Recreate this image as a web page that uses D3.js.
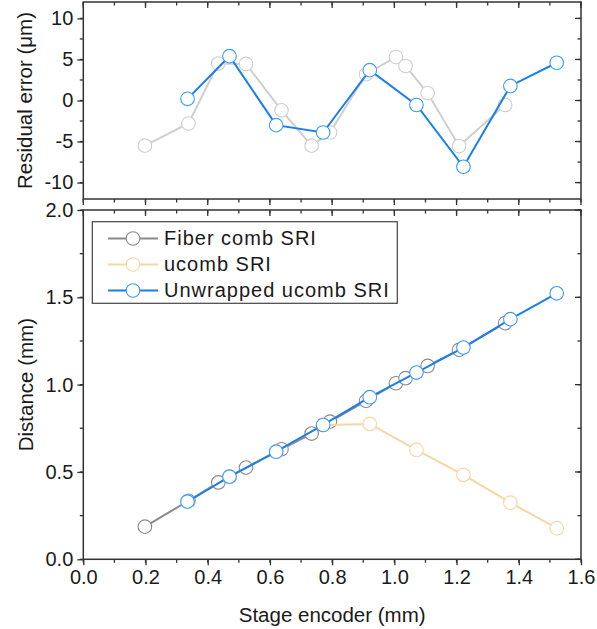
<!DOCTYPE html>
<html>
<head>
<meta charset="utf-8">
<script src="https://cdn.jsdelivr.net/npm/d3@7"></script>
<style>
  body { margin: 0; background: #fff; }
  svg { font-family: "Liberation Sans", Arial, sans-serif; }
  .axis text { font-size: 20px; fill: #1a1a1a; }
  .axis line { stroke: #333; stroke-width: 1.3; }
  .axis path { display: none; }
</style>
</head>
<body>
<div id="chart"></div>
<script>
// stage encoder positions (mm)
const stageFiber = [0.198, 0.338, 0.434, 0.523, 0.637, 0.734, 0.793, 0.909, 1.005, 1.036, 1.107, 1.208, 1.356];
const stageUcomb = [0.335, 0.470, 0.620, 0.771, 0.921, 1.071, 1.222, 1.373, 1.522];

// residual error (um)
const resFiber = [-5.5, -2.8, 4.5, 4.45, -1.2, -5.5, -3.9, 3.2, 5.3, 4.2, 0.9, -5.55, -0.55];
const resUnwrapped = [0.2, 5.4, -3.0, -3.9, 3.7, -0.55, -8.07, 1.77, 4.6];

// distance (mm)
const distFiber = [0.187, 0.335, 0.44, 0.525, 0.63, 0.72, 0.788, 0.907, 1.008, 1.037, 1.107, 1.199, 1.352];
const distUcomb = [0.33, 0.473, 0.616, 0.769, 0.775, 0.626, 0.483, 0.324, 0.178];
const distUnwrapped = [0.33, 0.473, 0.616, 0.769, 0.928, 1.069, 1.212, 1.375, 1.523];

const legendLabels = ['Fiber comb SRI', 'ucomb SRI', 'Unwrapped ucomb SRI'];
const xTicks = [0, 0.2, 0.4, 0.6, 0.8, 1.0, 1.2, 1.4, 1.6];
const resTicks = [-10, -5, 0, 5, 10];
const distTicks = [0, 0.5, 1.0, 1.5, 2.0];

const width = 597, height = 629;
const left = 83.3, right = 581;
const top1 = 2, bottom1 = 199;
const top2 = 210, bottom2 = 559.3;

const svg = d3.select('#chart').append('svg')
  .attr('width', width)
  .attr('height', height);

const x = d3.scaleLinear().domain([0, 1.6]).range([left, right]);
const yRes = d3.scaleLinear().domain([-12, 12]).range([bottom1, top1]);
const yDist = d3.scaleLinear().domain([0, 2]).range([bottom2, top2]);

const xMinor = d3.range(0, 1.61, 0.1);
const resMinor = d3.range(-10, 10.1, 2.5);
const distMinor = d3.range(0, 2.01, 0.25);

const tickLabel = d => String(d);

function drawTicks(parent, scale, values, size, orient) {
  // draws plain tick marks along one edge
  parent.append('g').selectAll('line').data(values).join('line')
    .attr('x1', d => orient === 'h' ? scale(d) : 0)
    .attr('x2', d => orient === 'h' ? scale(d) : size)
    .attr('y1', d => orient === 'h' ? 0 : scale(d))
    .attr('y2', d => orient === 'h' ? size : scale(d))
    .attr('stroke', '#333')
    .attr('stroke-width', 1.3);
}

function panel(y, yTicks, yMinor, yTop, yBottom, yFmt, showX) {
  // left axis, outward ticks with labels
  const gl = svg.append('g').attr('class', 'axis')
    .attr('transform', 'translate(' + left + ',0)');
  gl.call(d3.axisLeft(y).tickValues(yTicks).tickFormat(yFmt).tickSize(6).tickPadding(4).tickSizeOuter(0));
  drawTicks(gl, y, yMinor, -3.5, 'v');

  // right axis, inward ticks
  const gr = svg.append('g').attr('transform', 'translate(' + right + ',0)');
  drawTicks(gr, y, yMinor, -3.5, 'v');
  drawTicks(gr, y, yTicks, -6, 'v');

  // top axis, inward ticks
  const gt = svg.append('g').attr('transform', 'translate(0,' + yTop + ')');
  drawTicks(gt, x, xMinor, 3.5, 'h');
  drawTicks(gt, x, xTicks, 6, 'h');

  // bottom axis, outward ticks
  const gb = svg.append('g').attr('class', 'axis')
    .attr('transform', 'translate(0,' + yBottom + ')');
  if (showX) {
    gb.call(d3.axisBottom(x).tickValues(xTicks).tickFormat(d3.format('.1f')).tickSize(6).tickPadding(5).tickSizeOuter(0));
  } else {
    drawTicks(gb, x, xTicks, 6, 'h');
  }
  drawTicks(gb, x, xMinor, 3.5, 'h');

  svg.append('rect')
    .attr('x', left).attr('y', yTop)
    .attr('width', right - left).attr('height', yBottom - yTop)
    .attr('fill', 'none')
    .attr('stroke', '#333')
    .attr('stroke-width', 1.5);
}

panel(yRes, resTicks, resMinor, top1, bottom1, tickLabel, false);
panel(yDist, distTicks, distMinor, top2, bottom2, d3.format('.1f'), true);

function series(xs, ys, y, lineColor, markerColor, lineWidth) {
  const pts = xs.map((d, i) => [d, ys[i]]);
  const g = svg.append('g');
  g.append('path')
    .datum(pts)
    .attr('fill', 'none')
    .attr('stroke', lineColor)
    .attr('stroke-width', lineWidth)
    .attr('d', d3.line().x(d => x(d[0])).y(d => y(d[1])));
  g.selectAll('circle').data(pts).join('circle')
    .attr('cx', d => x(d[0]))
    .attr('cy', d => y(d[1]))
    .attr('r', 6.8)
    .attr('fill', '#fff')
    .attr('stroke', markerColor)
    .attr('stroke-width', 1.1);
}

const colFiber = '#8a8a8a';
const colFiberLight = '#cfcfcf';
const colUcomb = '#f9d5a6';
const colBlue = '#1a7fea';
const colBlueMarker = '#3a9bff';

// top panel
series(stageFiber, resFiber, yRes, colFiberLight, colFiberLight, 2);
series(stageUcomb, resUnwrapped, yRes, colBlue, colBlueMarker, 2);

// bottom panel
series(stageFiber, distFiber, yDist, colFiber, colFiber, 2);
series(stageUcomb, distUcomb, yDist, colUcomb, colUcomb, 2);
series(stageUcomb, distUnwrapped, yDist, colBlue, colBlueMarker, 2);

// legend
const legend = svg.append('g');
legend.append('rect')
  .attr('x', 92.3).attr('y', 221.7)
  .attr('width', 305).attr('height', 81.6)
  .attr('fill', '#fff')
  .attr('stroke', '#444')
  .attr('stroke-width', 1.2);
const legendColors = [[colFiber, colFiber], [colUcomb, colUcomb], [colBlue, colBlueMarker]];
legendLabels.forEach((label, i) => {
  const cy = 238.5 + i * 26;
  legend.append('line')
    .attr('x1', 108).attr('x2', 158)
    .attr('y1', cy).attr('y2', cy)
    .attr('stroke', legendColors[i][0])
    .attr('stroke-width', 2);
  legend.append('circle')
    .attr('cx', 133).attr('cy', cy).attr('r', 6.8)
    .attr('fill', '#fff')
    .attr('stroke', legendColors[i][1])
    .attr('stroke-width', 1.1);
  legend.append('text')
    .attr('x', 164).attr('y', cy + 6)
    .attr('font-size', 20)
    .attr('letter-spacing', 1)
    .attr('fill', '#1a1a1a')
    .text(label);
});

// axis titles
svg.append('text')
  .attr('transform', 'translate(32,' + (top1 + bottom1) / 2 + ') rotate(-90)')
  .attr('text-anchor', 'middle')
  .attr('font-size', 20.5)
  .attr('fill', '#1a1a1a')
  .text('Residual error (μm)');

svg.append('text')
  .attr('transform', 'translate(33,' + (top2 + bottom2) / 2 + ') rotate(-90)')
  .attr('text-anchor', 'middle')
  .attr('font-size', 20.5)
  .attr('fill', '#1a1a1a')
  .text('Distance (mm)');

svg.append('text')
  .attr('x', (left + right) / 2)
  .attr('y', 622)
  .attr('text-anchor', 'middle')
  .attr('font-size', 20.5)
  .attr('fill', '#1a1a1a')
  .text('Stage encoder (mm)');
</script>
</body>
</html>
